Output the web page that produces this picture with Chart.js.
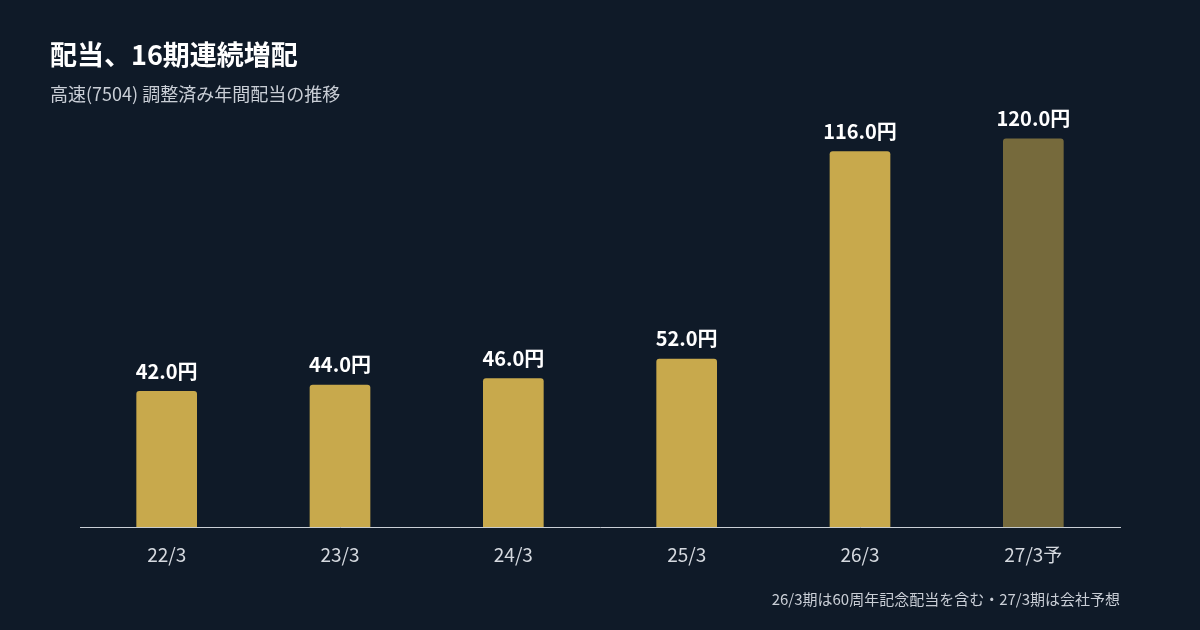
<!DOCTYPE html>
<html>
<head>
<meta charset="utf-8">
<script src="https://cdn.jsdelivr.net/npm/chart.js@4"></script>
<style>
  body { margin: 0; background: #0f1a28; font-family: "Noto Sans CJK JP", sans-serif; }
  #wrap { position: relative; width: 1200px; height: 630px; }
  #title { position: absolute; left: 50px; top: 34px; color: #ffffff; font-size: 27px; font-weight: bold; }
  #sub { position: absolute; left: 50px; top: 80px; color: #c9ced6; font-size: 18px; }
  #note { position: absolute; right: 80px; top: 588px; color: #c9ced6; font-size: 15px; }
  canvas { position: absolute; left: 0; top: 0; }
</style>
</head>
<body>
<div id="wrap">
  <canvas id="divChart" width="1200" height="630"></canvas>
  <div id="title">配当、16期連続増配</div>
  <div id="sub">高速(7504) 調整済み年間配当の推移</div>
  <div id="note">26/3期は60周年記念配当を含む・27/3期は会社予想</div>
</div>
<script>
const categories = ['22/3', '23/3', '24/3', '25/3', '26/3', '27/3予'];
const dividends = [42.0, 44.0, 46.0, 52.0, 116.0, 120.0];
const barColors = ['#c8a94c', '#c8a94c', '#c8a94c', '#c8a94c', '#c8a94c', '#766a3c'];

// value labels above each bar
const valueLabels = {
  id: 'valueLabels',
  afterDatasetsDraw(chart) {
    const ctx = chart.ctx;
    const meta = chart.getDatasetMeta(0);
    ctx.save();
    ctx.fillStyle = '#ffffff';
    ctx.font = 'bold 20px "Noto Sans CJK JP", sans-serif';
    ctx.textAlign = 'center';
    ctx.textBaseline = 'bottom';
    meta.data.forEach((bar, i) => {
      ctx.fillText(dividends[i].toFixed(1) + '円', bar.x, bar.y - 10);
    });
    ctx.restore();
  }
};

new Chart(document.getElementById('divChart'), {
  type: 'bar',
  data: {
    labels: categories,
    datasets: [{
      data: dividends,
      backgroundColor: barColors,
      borderRadius: 3,
      borderSkipped: 'bottom',
      barPercentage: 0.35,
      categoryPercentage: 1
    }]
  },
  options: {
    responsive: false,
    animation: false,
    layout: { padding: { left: 80, right: 80, top: 106, bottom: 56 } },
    plugins: { legend: { display: false }, tooltip: { enabled: false } },
    scales: {
      x: {
        grid: { display: false },
        border: { color: '#c9ced6', width: 1 },
        ticks: { color: '#d5d9df', font: { size: 19, family: '"Noto Sans CJK JP", sans-serif' }, padding: 8 }
      },
      y: { display: false, min: 0, max: 130 }
    }
  },
  plugins: [valueLabels]
});
</script>
</body>
</html>
